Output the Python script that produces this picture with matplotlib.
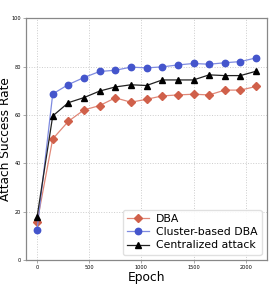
import matplotlib
matplotlib.use("Agg")
import matplotlib.pyplot as plt

epochs = [0, 150, 300, 450, 600, 750, 900, 1050, 1200, 1350, 1500, 1650, 1800, 1950, 2100]
dba = [15.6, 50.1, 57.4, 62.1, 63.9, 67.1, 65.3, 66.5, 67.9, 68.3, 68.6, 68.3, 70.3, 70.3, 71.8]
cluster_dba = [12.5, 68.7, 72.6, 75.5, 78.0, 78.5, 79.8, 79.5, 79.9, 80.7, 81.3, 81.0, 81.6, 82.1, 83.6]
centralized = [17.9, 59.6, 65.1, 67.2, 69.9, 71.6, 72.5, 72.2, 74.5, 74.5, 74.5, 76.6, 76.3, 76.3, 78.1]
labels = ["DBA", "Cluster-based DBA", "Centralized attack"]

fig = plt.figure(figsize=(2.75, 2.9), dpi=100)
ax = fig.add_axes([0.095, 0.103, 0.876, 0.834])

ax.plot(epochs, dba, color="#e08878", marker="D", markersize=4.2,
        markerfacecolor="#d0604a", markeredgecolor="#d0604a", linewidth=0.9, label=labels[0])
ax.plot(epochs, cluster_dba, color="#7f8be0", marker="o", markersize=4.6,
        markerfacecolor="#4455cc", markeredgecolor="#4455cc", linewidth=0.9, label=labels[1])
ax.plot(epochs, centralized, color="#222222", marker="^", markersize=4.6,
        markerfacecolor="black", markeredgecolor="black", linewidth=0.9, label=labels[2])

ax.set_ylim(0, 100)
ax.set_xlim(-105, 2205)
ax.set_xticks([0, 500, 1000, 1500, 2000])
ax.set_yticks([0, 20, 40, 60, 80, 100])
ax.tick_params(labelsize=3.6, length=2, width=0.5, color="#888888", pad=1.5)
ax.grid(True, linestyle=":", color="#cccccc", linewidth=0.7)
for s in ax.spines.values():
    s.set_color("#888888")
    s.set_linewidth(0.9)

ax.set_xlabel("Epoch", fontsize=8.8, labelpad=1)
ax.set_ylabel("Attach Success Rate", fontsize=8.7)
ax.yaxis.set_label_coords(-0.058, 0.5)

ax.legend(loc="lower right", fontsize=7.8, handlelength=2, borderpad=0.4,
          labelspacing=0.3, handletextpad=0.6, framealpha=0.9, edgecolor="#dddddd")

fig.savefig("out.png", dpi=100)
